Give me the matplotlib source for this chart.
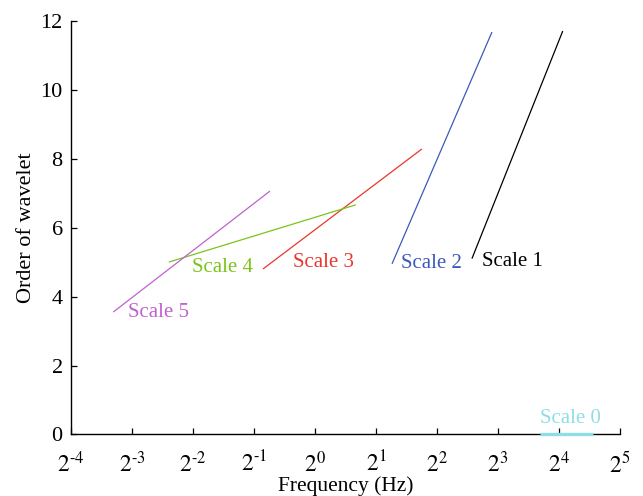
import matplotlib
matplotlib.use("Agg")
import matplotlib.pyplot as plt
import numpy as np

plt.rcParams["font.family"] = ["Liberation Serif", "DejaVu Serif"]
plt.rcParams["mathtext.fontset"] = "stix"

# Frequency band (Hz) and wavelet order at the two ends of each scale
scale_names = ["Scale 0", "Scale 1", "Scale 2", "Scale 3", "Scale 4", "Scale 5"]
freq_start = [12.9, 5.95, 2.40, 0.554, 0.190, 0.101]
freq_end = [23.6, 16.7, 7.47, 3.37, 1.59, 0.600]
order_start = [0.0, 5.1, 4.95, 4.8, 5.0, 3.55]
order_end = [0.0, 11.7, 11.67, 8.28, 6.66, 7.06]
scale_colors = ["#8fdde6", "#000000", "#3d59b8", "#e8372c", "#7ac41c", "#c061d0"]
line_widths = [2.4, 0.9, 0.9, 0.9, 0.9, 0.9]

# label anchors (frequency, order) for each scale name
label_freq = [18.3, 6.65, 2.65, 0.776, 0.2467, 0.1198]
label_order = [0.47, 5.03, 4.95, 4.98, 4.83, 3.53]
label_ha = ["center", "left", "left", "left", "left", "left"]

x_exponents = list(range(-4, 6))
y_ticks = [0, 2, 4, 6, 8, 10, 12]

fig = plt.figure(figsize=(6.43, 4.96), dpi=100)
ax = fig.add_axes([0.1104, 0.124, 0.8538, 0.8343])

for i, name in enumerate(scale_names):
    ax.plot([freq_start[i], freq_end[i]], [order_start[i], order_end[i]],
            color=scale_colors[i], lw=line_widths[i], solid_capstyle="butt",
            clip_on=False, zorder=3)
    ax.text(label_freq[i], label_order[i], name, color=scale_colors[i],
            fontsize=15, ha=label_ha[i], va="center")

ax.set_xscale("log", base=2)
ax.set_xlim(2.0 ** -4, 2.0 ** 5)
ax.set_ylim(0, 12)
ax.set_xticks([2.0 ** k for k in x_exponents])
ax.set_xticklabels([f"$2^{{\\text{{{k}}}}}$" for k in x_exponents])
ax.xaxis.set_minor_locator(matplotlib.ticker.NullLocator())
ax.set_yticks(y_ticks)
ax.set_yticklabels([str(v) for v in y_ticks])

for side in ("top", "right"):
    ax.spines[side].set_visible(False)
for side in ("left", "bottom"):
    ax.spines[side].set_linewidth(1.0)

ax.tick_params(axis="both", direction="in", length=4.5, width=0.9)
ax.tick_params(axis="x", pad=12, labelsize=17)
ax.tick_params(axis="y", pad=6, labelsize=16)

ax.set_xlabel("Frequency (Hz)", fontsize=15.5, va="bottom")
ax.xaxis.set_label_coords(0.5, -0.148)
ax.set_ylabel("Order of wavelet", fontsize=16, labelpad=3)

fig.savefig("out.png", dpi=100)
